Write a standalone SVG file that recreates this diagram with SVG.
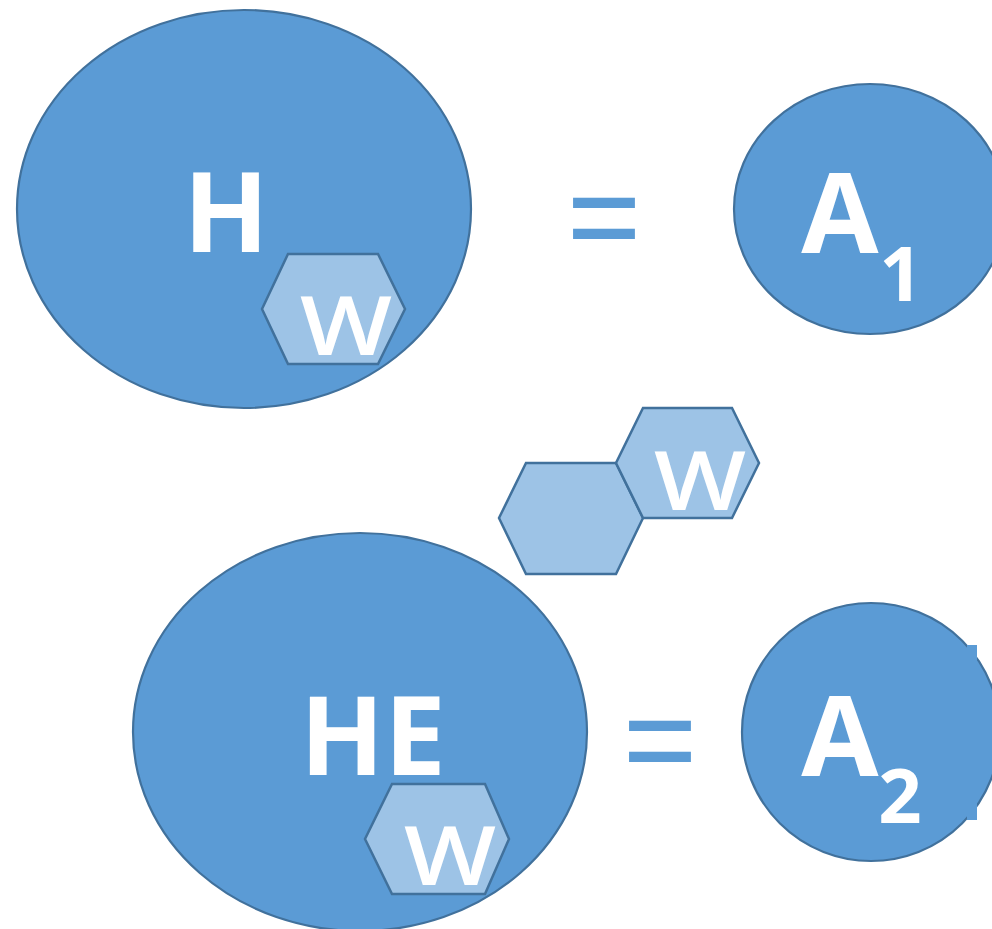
<svg xmlns="http://www.w3.org/2000/svg" width="992" height="929" viewBox="0 0 992 929">
<style>
.big{fill:#5B9BD5;stroke:#41719C;stroke-width:2.2}
.hex{fill:#9DC3E6;stroke:#41719C;stroke-width:2.5;stroke-linejoin:miter}
.t{fill:#FFFFFF;font-family:"Open Sans","Liberation Sans",sans-serif;font-weight:700}
.w{fill:#FFFFFF;font-family:"Open Sans","Liberation Sans",sans-serif;font-weight:600}
.eq{fill:#5B9BD5;font-family:"Open Sans","Liberation Sans",sans-serif;font-weight:400}
</style>
<rect width="992" height="929" fill="#FFFFFF"/>
<g id="node-H">
<ellipse class="big" cx="244" cy="209" rx="227" ry="199"/>
<text class="t" x="226" y="252" font-size="112" text-anchor="middle">H</text>
</g>
<g id="node-W1">
<polygon class="hex" points="288,254 378,254 405,309 378,364 288,364 262,309"/>
<text class="w" x="346" y="355" font-size="82" text-anchor="middle" textLength="92" lengthAdjust="spacingAndGlyphs">W</text>
</g>
<g id="eq1"><text class="eq" transform="translate(604,273) scale(1,1.15)" font-size="135" text-anchor="middle">=</text></g>
<g id="node-A1">
<ellipse class="big" cx="870" cy="209" rx="136" ry="125"/>
<text class="t" x="840" y="253" font-size="112" text-anchor="middle">A</text>
<text class="t" x="901" y="301" font-size="76" text-anchor="middle">1</text>
</g>
<g id="node-Wpair">
<polygon class="hex" points="526,463 616,463 643,518 616,574 526,574 499,518"/>
<polygon class="hex" points="643,408 732,408 759,463 732,518 643,518 616,463"/>
<text class="w" x="700" y="510" font-size="82" text-anchor="middle" textLength="92" lengthAdjust="spacingAndGlyphs">W</text>
</g>
<g id="node-HE">
<ellipse class="big" cx="360" cy="732" rx="227" ry="199"/>
<text class="t" x="373" y="775" font-size="110" text-anchor="middle">HE</text>
</g>
<g id="node-W2">
<polygon class="hex" points="392,784 485,784 509,839 485,894 392,894 365,839"/>
<text class="w" x="450" y="885" font-size="82" text-anchor="middle" textLength="92" lengthAdjust="spacingAndGlyphs">W</text>
</g>
<g id="eq2"><text class="eq" transform="translate(660,796) scale(1,1.15)" font-size="135" text-anchor="middle">=</text></g>
<g id="node-A2">
<ellipse class="big" cx="871" cy="732" rx="129" ry="129"/>
<rect x="967" y="645" width="10" height="175" fill="#5B9BD5"/>
<text class="t" x="840" y="776" font-size="112" text-anchor="middle">A</text>
<text class="t" x="900" y="823" font-size="76" text-anchor="middle">2</text>
</g>
</svg>
